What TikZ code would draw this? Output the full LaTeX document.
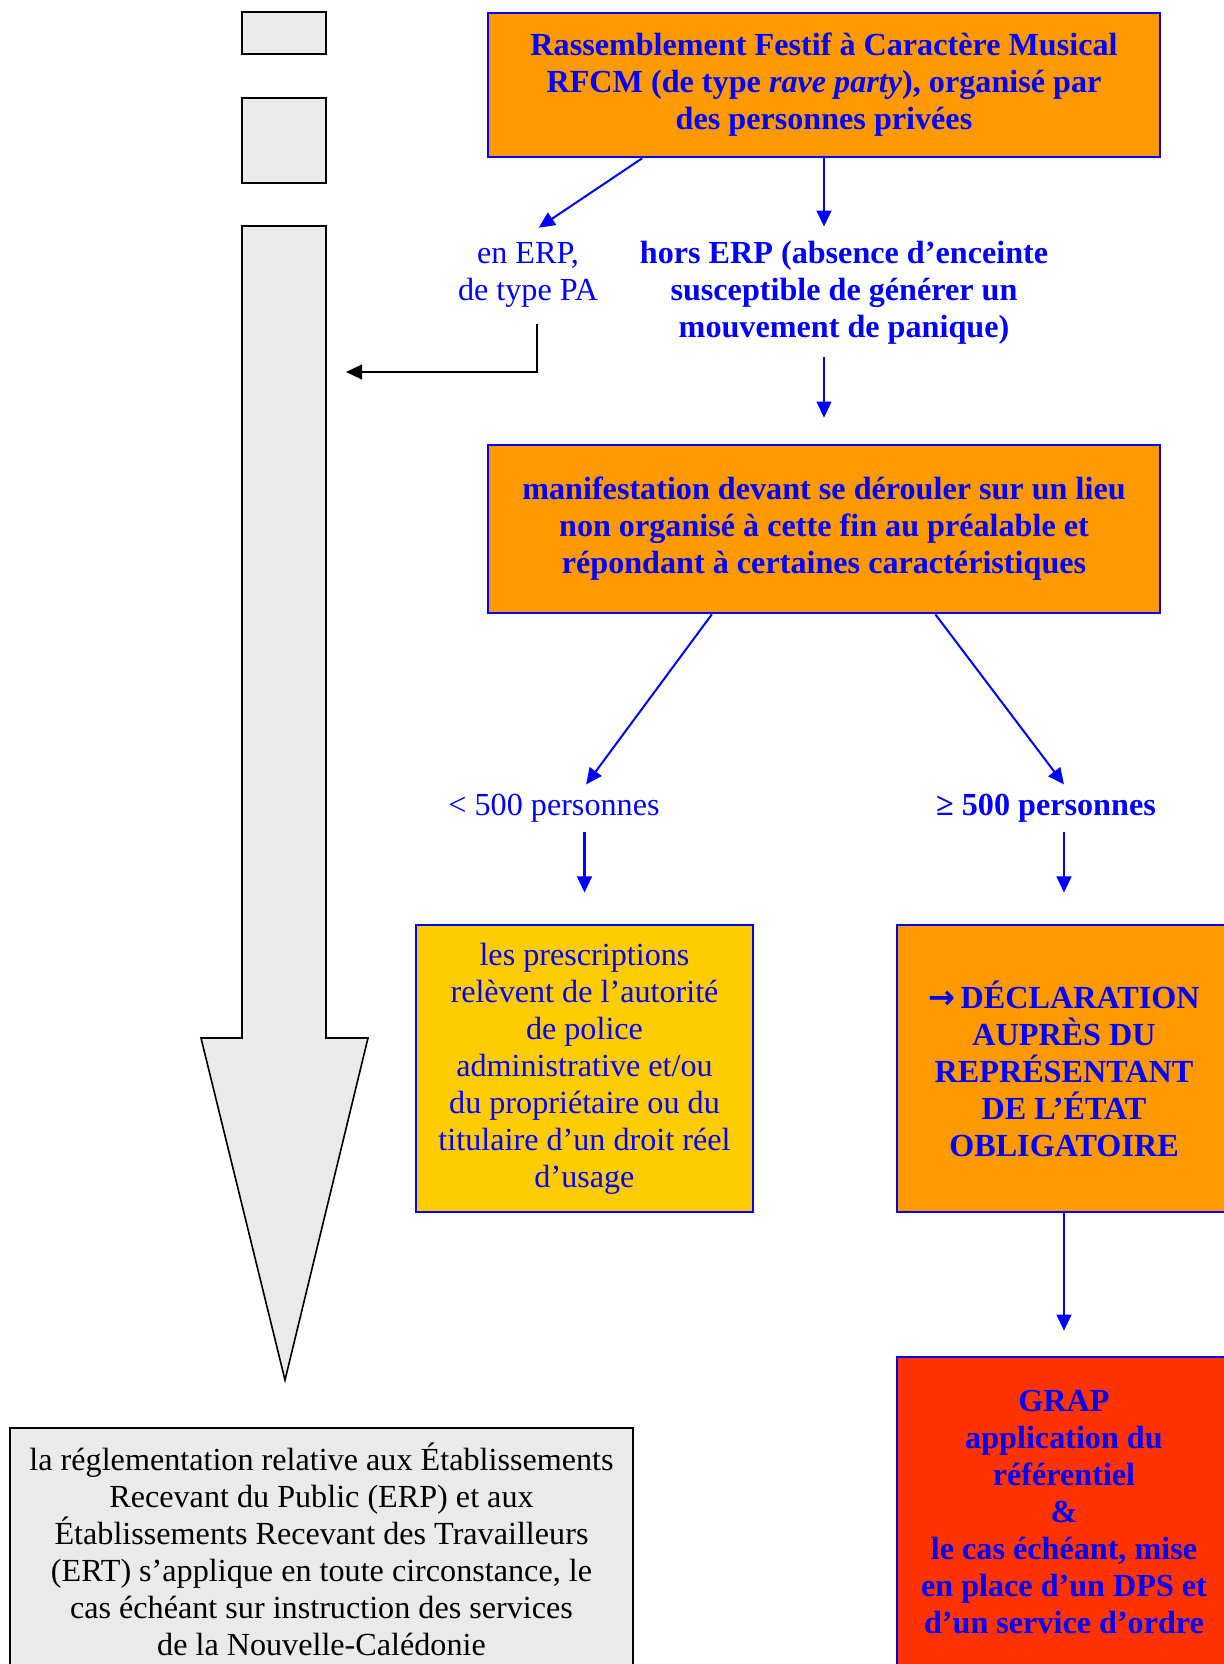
\documentclass[tikz,border=0pt]{standalone}
\usepackage{fontspec}
\setmainfont{Liberation Serif}
\newfontfamily\arrowfont{DejaVu Sans}
\usetikzlibrary{arrows.meta}
\definecolor{boxorange}{HTML}{FF9900}
\definecolor{boxyellow}{HTML}{FFCC00}
\definecolor{boxred}{HTML}{FF3300}
\definecolor{boxgray}{HTML}{EAEAEA}
\definecolor{txtblue}{HTML}{0000FF}
\newcommand{\bodyfont}{\fontsize{12}{13.8}\selectfont}

\begin{document}
\begin{tikzpicture}[x=0.3731pt,y=-0.3731pt,
  stepbox/.style={draw=txtblue,line width=1pt,align=center,text=txtblue,
    font=\bodyfont\bfseries,inner sep=0pt},
  branch/.style={text=txtblue,align=center,font=\bodyfont},
  boldbranch/.style={text=txtblue,align=center,font=\bodyfont\bfseries},
  flow/.style={draw=txtblue,line width=0.75pt,-{Triangle[length=6pt,width=5.5pt]}},
  greyshape/.style={draw=black,line width=0.6pt,fill=boxgray}]
  \useasboundingbox (0,0) rectangle (1223,1664);

  % left column: small boxes and big arrow
  \draw[greyshape] (242,12) rectangle (326,54);
  \draw[greyshape] (242,98) rectangle (326,183);
  \draw[greyshape] (242,226) -- (326,226) -- (326,1038) -- (368,1038)
    -- (285,1380) -- (201,1038) -- (242,1038) -- cycle;

  % boxes
  \node[stepbox,fill=boxorange,minimum width=250.7pt,minimum height=53.7pt] (rfcm) at (824,85)
    {Rassemblement Festif à Caractère Musical\\RFCM (de type \textit{rave party}), organisé par\\des personnes privées};
  \node[stepbox,fill=boxorange,minimum width=250.7pt,minimum height=62.7pt] (manif) at (824,529)
    {manifestation devant se dérouler sur un lieu\\non organisé à cette fin au préalable et\\répondant à certaines caractéristiques};
  \node[stepbox,fill=boxyellow,font=\bodyfont,minimum width=125.7pt,minimum height=107.1pt] (pres) at (584.5,1068.5)
    {les prescriptions\\relèvent de l’autorité\\de police\\administrative et/ou\\du propriétaire ou du\\titulaire d’un droit réel\\d’usage};
  \node[stepbox,fill=boxorange,minimum width=124.6pt,minimum height=107.1pt] (decl) at (1064,1068.5)
    {{\arrowfont\bfseries →}\,DÉCLARATION\\AUPRÈS DU\\REPRÉSENTANT\\DE L’ÉTAT\\OBLIGATOIRE};
  \node[stepbox,fill=boxred,minimum width=124.6pt,minimum height=115.7pt] (grap) at (1064,1512)
    {GRAP\\application du\\référentiel\\\&\\le cas échéant, mise\\en place d’un DPS et\\d’un service d’ordre};
  \node[draw=black,line width=0.6pt,fill=boxgray,align=center,font=\bodyfont,inner sep=0pt,
    minimum width=232.4pt,minimum height=90.3pt] (regl) at (321.5,1549)
    {la réglementation relative aux Établissements\\Recevant du Public (ERP) et aux\\Établissements Recevant des Travailleurs\\(ERT) s’applique en toute circonstance, le\\cas échéant sur instruction des services\\de la Nouvelle-Calédonie};

  % labels
  \node[branch] (erp) at (528,275) {en ERP,\\de type PA};
  \node[boldbranch] (hors) at (844,293) {hors ERP (absence d’enceinte\\susceptible de générer un\\mouvement de panique)};
  \node[branch] (lt500) at (554,808) {< 500 personnes};
  \node[boldbranch] (ge500) at (1046,808) {≥ 500 personnes};

  % arrows
  \draw[flow] ([xshift=58pt]rfcm.south west) -- ([xshift=4pt,yshift=2pt]erp.north);
  \draw[flow] (rfcm.south) -- ([yshift=2pt]rfcm.south |- hors.north);
  \coordinate (erpfoot) at (537,324);
  \coordinate (rulein) at (346,372);
  \draw[line width=0.75pt,-{Triangle[length=6pt,width=5.5pt]}] (erpfoot) |- (rulein);
  \draw[flow,shorten >=9.7pt] ([yshift=-1pt]manif.north |- hors.south) -- (manif.north);
  \draw[flow] ([xshift=84pt]manif.south west) -- ([xshift=12pt]lt500.north);
  \draw[flow] ([xshift=-84.3pt]manif.south east) -- ([xshift=6.7pt]ge500.north);
  \draw[flow,shorten >=11.6pt] (pres.north |- lt500.south) -- (pres.north);
  \draw[flow,shorten >=11.6pt] (decl.north |- ge500.south) -- (decl.north);
  \draw[flow,shorten >=9.3pt] (decl.south) -- (grap.north);
\end{tikzpicture}
\end{document}
